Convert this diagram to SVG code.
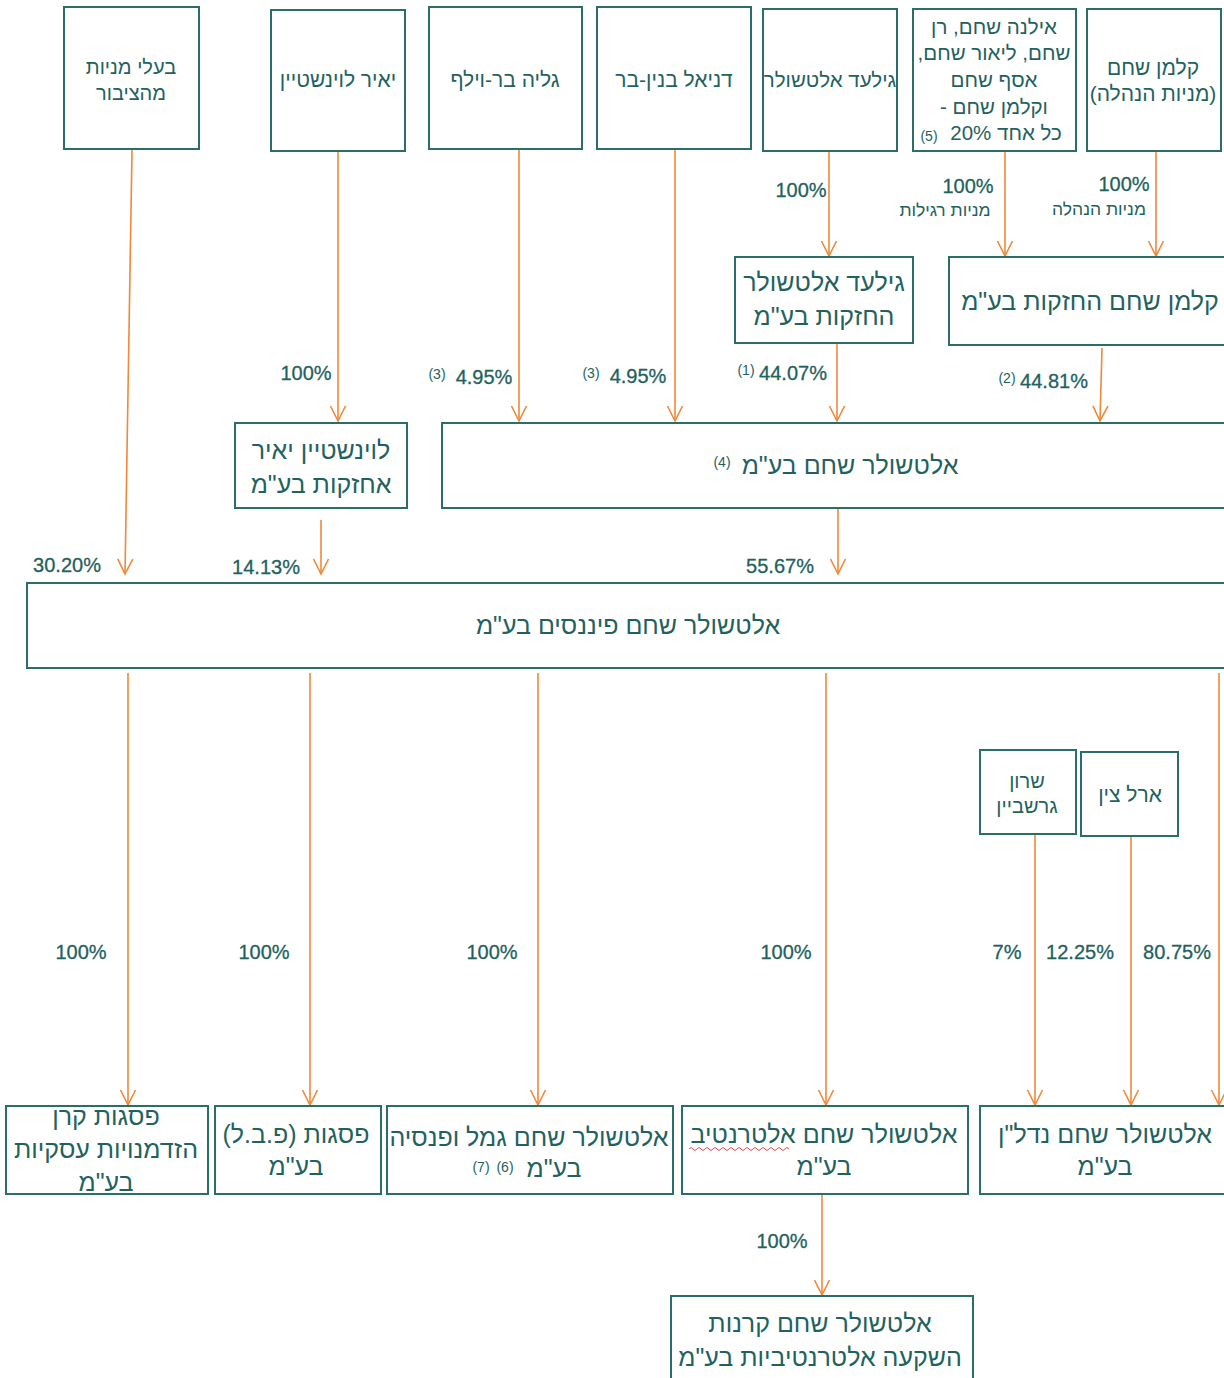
<svg xmlns="http://www.w3.org/2000/svg" width="1224" height="1378" viewBox="0 0 1224 1378">
<style>
.box{fill:#fff;stroke:#2a6e69;stroke-width:2}
.t{font-family:"Liberation Sans",Arial,sans-serif;fill:#1f625e;text-anchor:middle}
.he{direction:rtl;unicode-bidi:embed}
.s18{font-size:20px}
.s19{font-size:21px}
.s20{font-size:20.5px}
.s22{font-size:25px}
.p{font-size:20px;stroke:#1f625e;stroke-width:0.3}
.sm{font-size:14px}
.sub{font-size:17.5px}
.c{fill:none;stroke:#f0883a;stroke-width:1.6;marker-end:url(#ah)}
</style>
<defs>
<marker id="ah" viewBox="-16 -9 18 18" refX="0" refY="0" markerWidth="18" markerHeight="18" markerUnits="userSpaceOnUse" orient="auto" overflow="visible">
<path d="M-15,-7.5 L0,0 L-15,7.5" fill="none" stroke="#f0883a" stroke-width="1.6"/>
</marker>
</defs>
<rect width="1224" height="1378" fill="#fff"/>

<g id="connectors">
<path class="c" d="M132,150 L125,574"/>
<path class="c" d="M338,152 L338,421"/>
<path class="c" d="M519,150 L519,421"/>
<path class="c" d="M675,150 L675,421"/>
<path class="c" d="M829,152 L829,256"/>
<path class="c" d="M1005,152 L1005,256"/>
<path class="c" d="M1156,152 L1156,256"/>
<path class="c" d="M837,344 L837,421"/>
<path class="c" d="M1102,348 L1100,421"/>
<path class="c" d="M321,520 L321,574"/>
<path class="c" d="M838,509 L838,574"/>
<path class="c" d="M128,673 L128,1105"/>
<path class="c" d="M310,673 L310,1105"/>
<path class="c" d="M538,673 L538,1105"/>
<path class="c" d="M826,673 L826,1105"/>
<path class="c" d="M1219,673 L1219,1105"/>
<path class="c" d="M1035,835 L1035,1105"/>
<path class="c" d="M1131,837 L1131,1105"/>
<path class="c" d="M822,1195 L822,1295"/>
</g>

<g id="labels">
<text class="t p" x="801" y="197">100%</text>
<text class="t p" x="968" y="193">100%</text>
<text class="t he sub" x="945" y="216">מניות רגילות</text>
<text class="t p" x="1124" y="191">100%</text>
<text class="t he sub" x="1099" y="215">מניות הנהלה</text>
<text class="t p" x="306" y="380">100%</text>
<text class="t sm" x="437" y="379">(3)</text>
<text class="t p" x="484" y="384">4.95%</text>
<text class="t sm" x="591" y="378">(3)</text>
<text class="t p" x="638" y="383">4.95%</text>
<text class="t sm" x="746" y="375">(1)</text>
<text class="t p" x="793" y="380">44.07%</text>
<text class="t sm" x="1007" y="383">(2)</text>
<text class="t p" x="1054" y="388">44.81%</text>
<text class="t p" x="67" y="572">30.20%</text>
<text class="t p" x="266" y="574">14.13%</text>
<text class="t p" x="780" y="573">55.67%</text>
<text class="t p" x="81" y="959">100%</text>
<text class="t p" x="264" y="959">100%</text>
<text class="t p" x="492" y="959">100%</text>
<text class="t p" x="786" y="959">100%</text>
<text class="t p" x="1007" y="959">7%</text>
<text class="t p" x="1080" y="959">12.25%</text>
<text class="t p" x="1177" y="959">80.75%</text>
<text class="t p" x="782" y="1248">100%</text>
</g>

<g id="n1">
<rect class="box" x="64" y="7" width="135" height="142"/>
<text class="t he s18" x="131" y="74">בעלי מניות</text>
<text class="t he s18" x="131" y="100">מהציבור</text>
</g>
<g id="n2">
<rect class="box" x="271" y="10" width="134" height="141"/>
<text class="t he s19" x="338" y="87">יאיר לוינשטיין</text>
</g>
<g id="n3">
<rect class="box" x="429" y="7" width="153" height="142"/>
<text class="t he s19" x="505" y="87">גליה בר-וילף</text>
</g>
<g id="n4">
<rect class="box" x="597" y="7" width="154" height="142"/>
<text class="t he s19" x="674" y="87">דניאל בנין-בר</text>
</g>
<g id="n5">
<rect class="box" x="763" y="9" width="134" height="142"/>
<text class="t he s20" x="830" y="87">גילעד אלטשולר</text>
</g>
<g id="n6">
<rect class="box" x="913" y="9" width="163" height="142"/>
<text class="t he s20" x="994" y="34">אילנה שחם, רן</text>
<text class="t he s20" x="994" y="60">שחם, ליאור שחם,</text>
<text class="t he s20" x="994" y="87">אסף שחם</text>
<text class="t he s20" x="994" y="114">וקלמן שחם -</text>
<text class="t he s20" x="1006" y="140">כל אחד  20%</text>
<text class="t sm" x="929" y="141">(5)</text>
</g>
<g id="n7">
<rect class="box" x="1087" y="9" width="134" height="142"/>
<text class="t he s19" x="1153" y="75">קלמן שחם</text>
<text class="t he s19" x="1153" y="101">(מניות הנהלה)</text>
</g>
<g id="n8">
<rect class="box" x="735" y="257" width="178" height="86"/>
<text class="t he s22" x="824" y="291">גילעד אלטשולר</text>
<text class="t he s22" x="824" y="325">החזקות בע"מ</text>
</g>
<g id="n9">
<rect class="box" x="949" y="257" width="285" height="88"/>
<text class="t he s22" x="1090" y="310">קלמן שחם החזקות בע"מ</text>
</g>
<g id="n10">
<rect class="box" x="235" y="423" width="172" height="85"/>
<text class="t he s22" x="321" y="459">לוינשטיין יאיר</text>
<text class="t he s22" x="321" y="493">אחזקות בע"מ</text>
</g>
<g id="n11">
<rect class="box" x="442" y="423" width="792" height="85"/>
<text class="t he s22" x="850" y="474">אלטשולר שחם בע"מ</text>
<text class="t sm" x="722" y="467">(4)</text>
</g>
<g id="n12">
<rect class="box" x="27" y="583" width="1207" height="85"/>
<text class="t he s22" x="628" y="634">אלטשולר שחם פיננסים בע"מ</text>
</g>
<g id="n13">
<rect class="box" x="980" y="750" width="96" height="84"/>
<text class="t he s18" x="1027" y="788">שרון</text>
<text class="t he s18" x="1027" y="813">גרשביין</text>
</g>
<g id="n14">
<rect class="box" x="1081" y="752" width="97" height="84"/>
<text class="t he s19" x="1130" y="802">ארל צין</text>
</g>
<g id="n15">
<rect class="box" x="6" y="1106" width="202" height="88"/>
<text class="t he s22" x="106" y="1125">פסגות קרן</text>
<text class="t he s22" x="106" y="1158">הזדמנויות עסקיות</text>
<text class="t he s22" x="106" y="1191">בע"מ</text>
</g>
<g id="n16">
<rect class="box" x="215" y="1106" width="166" height="88"/>
<text class="t he s22" x="296" y="1143">פסגות (פ.ב.ל)</text>
<text class="t he s22" x="296" y="1175">בע"מ</text>
</g>
<g id="n17">
<rect class="box" x="387" y="1106" width="286" height="88"/>
<text class="t he s22" x="529" y="1146">אלטשולר שחם גמל ופנסיה</text>
<text class="t he s22" x="554" y="1177">בע"מ</text>
<text class="t sm" x="505" y="1172">(6)</text>
<text class="t sm" x="481" y="1172">(7)</text>
</g>
<g id="n18">
<rect class="box" x="682" y="1106" width="286" height="88"/>
<text class="t he s22" x="824" y="1143">אלטשולר שחם אלטרנטיב</text>
<text class="t he s22" x="824" y="1175">בע"מ</text>
<path d="M689,1149 q2,-3 4,0 t4,0 t4,0 t4,0 t4,0 t4,0 t4,0 t4,0 t4,0 t4,0 t4,0 t4,0 t4,0 t4,0 t4,0 t4,0 t4,0 t4,0 t4,0 t4,0 t4,0 t4,0 t4,0 t4,0 t4,0" fill="none" stroke="#e8474a" stroke-width="1"/>
</g>
<g id="n19">
<rect class="box" x="980" y="1106" width="254" height="88"/>
<text class="t he s22" x="1105" y="1143">אלטשולר שחם נדל"ן</text>
<text class="t he s22" x="1105" y="1175">בע"מ</text>
</g>
<g id="n20">
<rect class="box" x="671" y="1296" width="302" height="90"/>
<text class="t he s22" x="820" y="1332">אלטשולר שחם קרנות</text>
<text class="t he s22" x="820" y="1366">השקעה אלטרנטיביות בע"מ</text>
</g>
</svg>
